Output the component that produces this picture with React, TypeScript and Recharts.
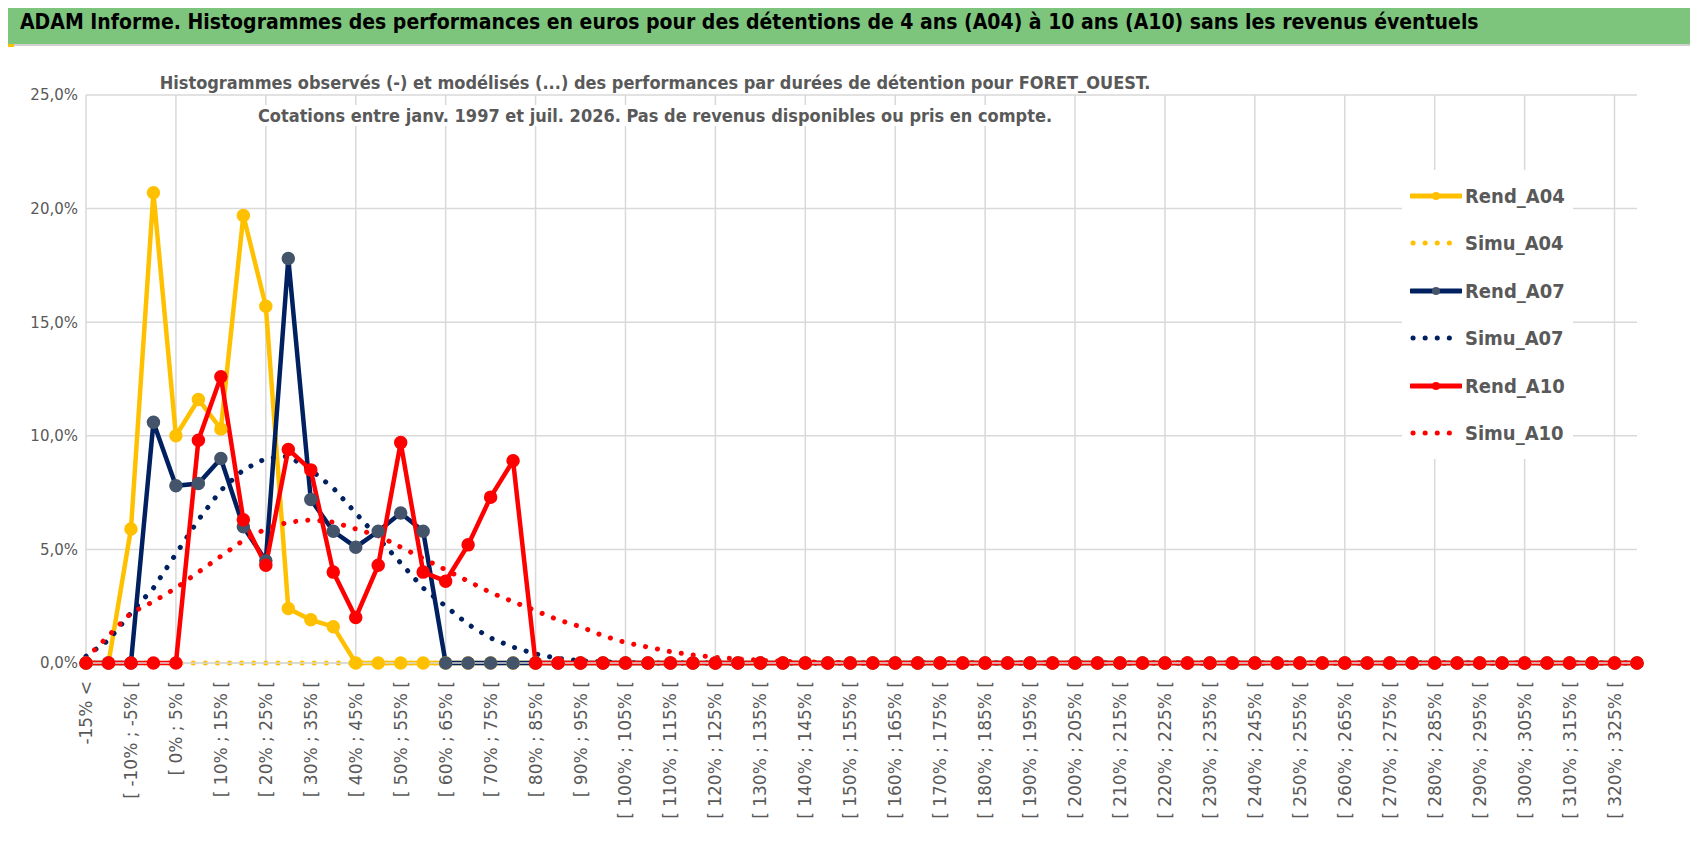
import React from 'react';
import { LineChart, Line, CartesianGrid, XAxis, YAxis } from 'recharts';

const categories: string[] = ['-15% <'];
for (let lo = -15; lo <= 325; lo += 5) categories.push(`[ ${lo}% ; ${lo + 5}% [`);

const rendA04 = [0, 0, 5.9, 20.7, 10.0, 11.6, 10.3, 19.7, 15.7, 2.4, 1.9, 1.6, 0, 0, 0, 0, 0];
const simuA04 = [null, 0, 0, 0, 0, 0, 0, 0, 0, 0, 0, 0, 0, 0, 0, 0, 0];
const rendA07 = [0, 0, 0, 10.6, 7.8, 7.9, 9.0, 6.0, 4.5, 17.8, 7.2, 5.8, 5.1, 5.8, 6.6, 5.8, 0, 0, 0, 0];
const simuA07 = [0.3, 1.0, 2.2, 3.3, 4.8, 6.3, 7.6, 8.5, 9.0, 9.1, 8.5, 7.7, 6.6, 5.5, 4.4, 3.3, 2.5, 1.7, 1.1, 0.7, 0.4, 0.2, 0.1, 0.05, 0.02, 0];
const rendA10 = [0, 0, 0, 0, 0, 9.8, 12.6, 6.3, 4.3, 9.4, 8.5, 4.0, 2.0, 4.3, 9.7, 4.0, 3.6, 5.2, 7.3, 8.9];
const simuA10 = [0.2, 1.2, 2.2, 2.7, 3.3, 4.0, 4.7, 5.4, 5.9, 6.2, 6.3, 6.2, 5.9, 5.6, 5.1, 4.6, 4.1, 3.6, 3.1, 2.7, 2.3, 1.9, 1.6, 1.2, 0.9, 0.7, 0.5, 0.35, 0.25, 0.18, 0.12, 0.08, 0.05, 0.03, 0.01, 0];
const yTicks = [0, 5, 10, 15, 20, 25];

const GOLD = '#FFC000';
const NAVY = '#002060';
const RED = '#FF0000';

const data = categories.map((c, i) => ({
  cat: c,
  rendA04: i < rendA04.length ? rendA04[i] : 0,
  simuA04: i < simuA04.length ? simuA04[i] : null,
  rendA07: i < rendA07.length ? rendA07[i] : 0,
  simuA07: i < simuA07.length ? simuA07[i] : 0,
  rendA10: i < rendA10.length ? rendA10[i] : 0,
  simuA10: i < simuA10.length ? simuA10[i] : 0,
}));

const legendItems = [
  { name: 'Rend_A04', color: GOLD, dotted: false, dot: GOLD },
  { name: 'Simu_A04', color: GOLD, dotted: true, dot: GOLD },
  { name: 'Rend_A07', color: NAVY, dotted: false, dot: '#44546A' },
  { name: 'Simu_A07', color: NAVY, dotted: true, dot: NAVY },
  { name: 'Rend_A10', color: RED, dotted: false, dot: RED },
  { name: 'Simu_A10', color: RED, dotted: true, dot: RED },
];

const LegendBox = () => (
  <div style={{ background: '#fff', padding: '2px 8px' }}>
    {legendItems.map((it) => (
      <div key={it.name} style={{ display: 'flex', alignItems: 'center', height: 47.5 }}>
        <svg width={52} height={12}>
          {it.dotted ? (
            <line x1={3} y1={6} x2={50} y2={6} stroke={it.color} strokeWidth={5} strokeDasharray="0.1 12" strokeLinecap="round" />
          ) : (
            <>
              <line x1={1} y1={6} x2={51} y2={6} stroke={it.color} strokeWidth={5} strokeLinecap="round" />
              <circle cx={26} cy={6} r={4} fill={it.dot} />
            </>
          )}
        </svg>
        <span style={{ marginLeft: 3, fontSize: 20, fontWeight: 'bold', color: '#595959', fontFamily: 'DejaVu Sans Condensed, sans-serif' }}>{it.name}</span>
      </div>
    ))}
  </div>
);

const XTick = (props: any) => {
  const { x, y, payload } = props;
  return (
    <text x={x} y={y + 10} transform={`rotate(-90 ${x} ${y + 10})`} textAnchor="end" dominantBaseline="central" fontSize={17} fill="#595959" fontFamily="DejaVu Sans, sans-serif">
      {payload.value}
    </text>
  );
};

const fmt = (v: number) => `${v.toFixed(1).replace('.', ',')}%`;

const App: React.FunctionComponent = () => {
  const W = 1698, H = 854;
  return (
    <div style={{ position: 'relative', width: W, height: H, margin: -8, background: '#fff', overflow: 'hidden', fontFamily: 'DejaVu Sans Condensed, sans-serif' }}>
      <div style={{ position: 'absolute', left: 0, top: 0, width: W - 2, height: H - 2, border: '1px solid #8c8c8c' }} />
      <div style={{ position: 'absolute', left: 2, top: 4, width: W - 6, height: 40, background: '#7DC57D', borderBottom: '2px solid #d0d0d0' }}>
        <div style={{ position: 'absolute', left: 18, top: 6, fontSize: 21, fontWeight: 'bold', color: '#000', whiteSpace: 'nowrap' }}>
          ADAM Informe. Histogrammes des performances en euros pour des détentions de 4 ans (A04) à 10 ans (A10) sans les revenus éventuels
        </div>
      </div>
      <div style={{ position: 'absolute', left: 4, top: 44, width: 10, height: 3, background: GOLD }} />
      <div style={{ position: 'absolute', right: 4, top: 44, width: 3, height: 10, background: GOLD }} />
      <div style={{ position: 'absolute', right: 4, bottom: 4, width: 14, height: 3, background: GOLD }} />
      <div style={{ position: 'absolute', left: 0, top: 0 }}>
        <LineChart width={W} height={H} data={data} margin={{ top: 95, right: 61, left: 16, bottom: 21 }}>
          <CartesianGrid
            stroke="#d9d9d9"
            strokeWidth={1.5}
            verticalCoordinatesGenerator={({ offset }: any) => {
              const step = offset.width / (categories.length - 1);
              const out: number[] = [];
              for (let i = 0; i < categories.length; i += 4) out.push(offset.left + i * step);
              return out;
            }}
          />
          <XAxis dataKey="cat" interval={1} tick={<XTick />} height={170} axisLine={{ stroke: '#d9d9d9', strokeWidth: 1.5 }} tickLine={false} />
          <YAxis domain={[0, 25]} ticks={yTicks} tickFormatter={fmt} width={70} axisLine={false} tickLine={false} tick={{ fontSize: 15, fill: '#595959', fontFamily: 'DejaVu Sans, sans-serif' }} />
          <Line dataKey="simuA04" stroke={GOLD} strokeWidth={5} strokeDasharray="0.1 12" strokeLinecap="round" dot={false} isAnimationActive={false} />
          <Line dataKey="rendA04" stroke={GOLD} strokeWidth={4.5} dot={{ r: 4.5, fill: GOLD, stroke: GOLD }} isAnimationActive={false} />
          <Line dataKey="simuA07" stroke={NAVY} strokeWidth={5} strokeDasharray="0.1 12" strokeLinecap="round" dot={false} isAnimationActive={false} />
          <Line dataKey="rendA07" stroke={NAVY} strokeWidth={4.5} dot={{ r: 4.5, fill: '#44546A', stroke: '#44546A' }} isAnimationActive={false} />
          <Line dataKey="simuA10" stroke={RED} strokeWidth={5} strokeDasharray="0.1 12" strokeLinecap="round" dot={false} isAnimationActive={false} />
          <Line dataKey="rendA10" stroke={RED} strokeWidth={4.5} dot={{ r: 4.5, fill: RED, stroke: RED }} isAnimationActive={false} />
        </LineChart>
      </div>
      <div style={{ position: 'absolute', left: 1402, top: 170 }}>
        <LegendBox />
      </div>
      <div style={{ position: 'absolute', left: 0, width: 1310, top: 66, textAlign: 'center', fontSize: 18, fontWeight: 'bold', color: '#595959', lineHeight: '33px' }}>
        <span style={{ background: '#fff', padding: '0 6px' }}>Histogrammes observés (-) et modélisés (...) des performances par durées de détention pour FORET_OUEST.</span>
        <br />
        <span style={{ background: '#fff', padding: '0 6px' }}>Cotations entre janv. 1997 et juil. 2026. Pas de revenus disponibles ou pris en compte.</span>
      </div>
    </div>
  );
};

export default App;
